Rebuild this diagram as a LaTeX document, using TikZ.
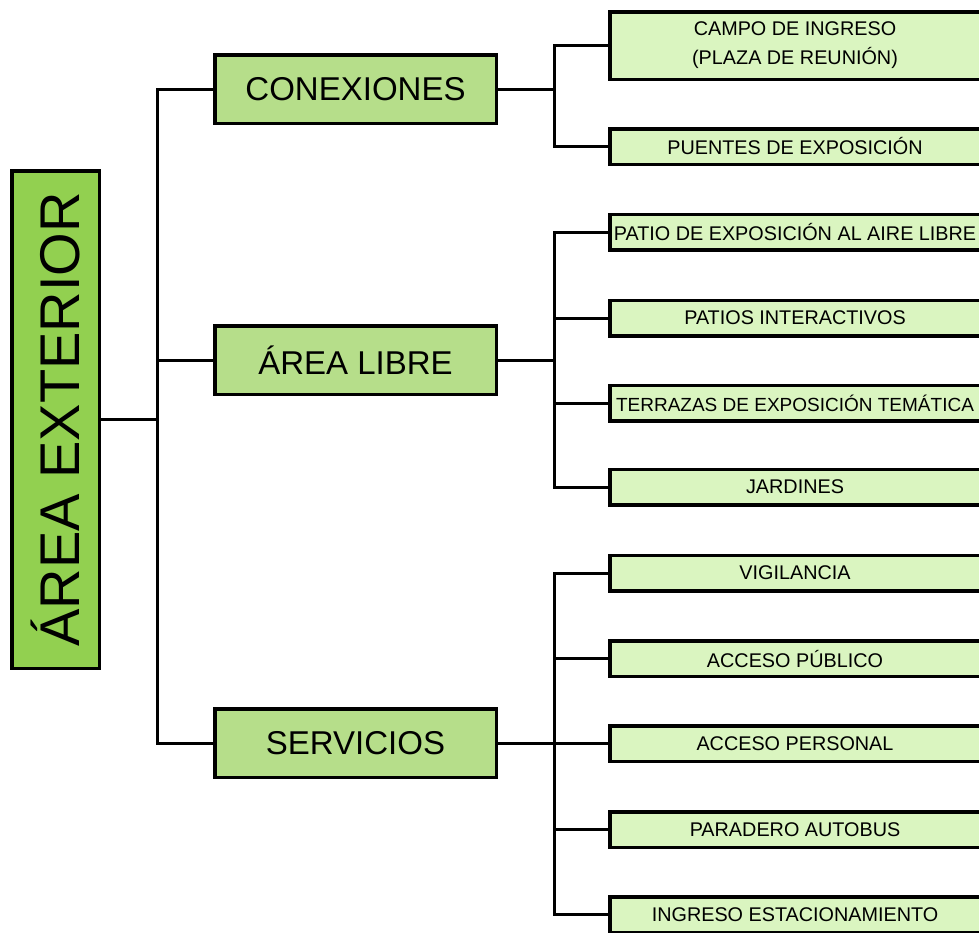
\documentclass[tikz,border=0pt]{standalone}
\usepackage{fontspec}
\setmainfont{Liberation Sans}
\definecolor{rootgreen}{RGB}{146,208,80}
\definecolor{groupgreen}{RGB}{182,222,138}
\definecolor{itemgreen}{RGB}{218,245,192}
\tikzset
{
    rootnode/.style  = {rectangle, draw=black, line width=3.5pt, fill=rootgreen, minimum width=87.5pt, minimum height=497.5pt, inner sep=0pt, font=\fontsize{56}{60}\selectfont},
    groupnode/.style = {rectangle, draw=black, line width=3.5pt, fill=groupgreen, minimum width=281.5pt, minimum height=68.5pt, inner sep=0pt, font=\fontsize{33}{38}\selectfont},
    itemnode/.style  = {rectangle, draw=black, line width=3.5pt, fill=itemgreen, minimum width=370.5pt, minimum height=35.5pt, inner sep=0pt, align=center, font=\fontsize{19.8}{29}\selectfont},
    branch/.style    = {line width=3pt, to path={-- ++(\BRANCHDX,0) |- (\tikztotarget)}}
}

\begin{document}
\begin{tikzpicture}[x=1pt, y=-1pt]

	 \newcommand\BRANCHDX{56}
	 \newcommand\GROUPX{355.5}
	 \newcommand\ITEMX{795}

	 \useasboundingbox (0,0) rectangle (979,932);

	 \node (root)    [rootnode]  at (55.5, 419.5)    {\rotatebox{90}{ÁREA EXTERIOR}};

	 \node (conex)   [groupnode] at (\GROUPX, 89)    {CONEXIONES};
	 \node (libre)   [groupnode] at (\GROUPX, 360)   {ÁREA LIBRE};
	 \node (serv)    [groupnode] at (\GROUPX, 743)   {SERVICIOS};

	 \node (campo)   [itemnode, minimum height=67.5pt] at (\ITEMX, 45.5) {CAMPO DE INGRESO\\(PLAZA DE REUNIÓN)};
	 \node (puentes) [itemnode]  at (\ITEMX, 146.5)  {PUENTES DE EXPOSICIÓN};

	 \node (patio)   [itemnode]  at (\ITEMX, 232)    {PATIO DE EXPOSICIÓN AL AIRE LIBRE};
	 \node (inter)   [itemnode]  at (\ITEMX, 318)    {PATIOS INTERACTIVOS};
	 \node (terraza) [itemnode, font=\fontsize{19}{29}\selectfont] at (\ITEMX, 403) {TERRAZAS DE EXPOSICIÓN TEMÁTICA};
	 \node (jardin)  [itemnode]  at (\ITEMX, 487)    {JARDINES};

	 \node (vigil)   [itemnode]  at (\ITEMX, 573)    {VIGILANCIA};
	 \node (acpub)   [itemnode]  at (\ITEMX, 658.5)  {ACCESO PÚBLICO};
	 \node (acper)   [itemnode]  at (\ITEMX, 743.5)  {ACCESO PERSONAL};
	 \node (parad)   [itemnode]  at (\ITEMX, 829.5)  {PARADERO AUTOBUS};
	 \node (ingreso) [itemnode]  at (\ITEMX, 914.5)  {INGRESO ESTACIONAMIENTO};

	 \path
		  (root.east)    edge[branch]  (conex.west)
		  (root.east)    edge[branch]  (libre.west)
		  (root.east)    edge[branch]  (serv.west)
		  (conex.east)   edge[branch]  (campo.west)
		  (conex.east)   edge[branch]  (puentes.west)
		  (libre.east)   edge[branch]  (patio.west)
		  (libre.east)   edge[branch]  (inter.west)
		  (libre.east)   edge[branch]  (terraza.west)
		  (libre.east)   edge[branch]  (jardin.west)
		  (serv.east)    edge[branch]  (vigil.west)
		  (serv.east)    edge[branch]  (acpub.west)
		  (serv.east)    edge[branch]  (acper.west)
		  (serv.east)    edge[branch]  (parad.west)
		  (serv.east)    edge[branch]  (ingreso.west);
\end{tikzpicture}
\end{document}
